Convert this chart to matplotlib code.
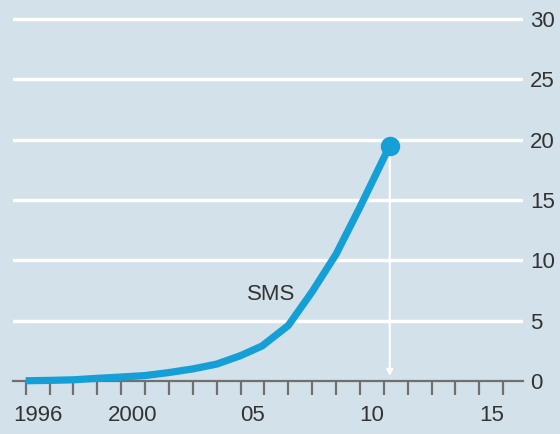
import matplotlib
matplotlib.use("Agg")
import matplotlib.pyplot as plt
import numpy as np

# SMS volume (x = fractional year)
years = [1996.0, 1997.0, 1998.0, 1999.0, 2000.0, 2001.0, 2002.0, 2003.0,
         2004.0, 2005.0, 2005.9, 2007.0, 2008.0, 2009.0, 2010.0, 2011.25]
sms = [0.02, 0.05, 0.1, 0.22, 0.33, 0.45, 0.7, 1.0,
       1.4, 2.1, 2.9, 4.6, 7.4, 10.5, 14.4, 19.5]

ytick_vals = [0, 5, 10, 15, 20, 25, 30]
xlabel_years = [1996, 2000, 2005, 2010, 2015]
xlabel_text = ["1996", "2000", "05", "10", "15"]

bg = "#d3e1ea"
blue = "#159fd7"
txt = "#333333"

plt.rcParams['font.family'] = ['Liberation Sans', 'DejaVu Sans']

fig = plt.figure(figsize=(5.6, 4.34), dpi=100, facecolor=bg)
ax = fig.add_axes([12.5 / 560, 53 / 434, (523 - 12.5) / 560, 381 / 434])
ax.set_facecolor(bg)
ax.set_xlim(1995.45, 2016.83)
ax.set_ylim(0, 31.57)
for s in ax.spines.values():
    s.set_visible(False)

# white gridlines
for v in ytick_vals[1:]:
    ax.axhline(v, color="white", lw=2.5, zorder=1)
ax.axhline(0, color="#707070", lw=1.6, zorder=2, clip_on=False)

# y labels on the right
ax.yaxis.tick_right()
ax.set_yticks(ytick_vals)
ax.set_yticklabels([str(v) for v in ytick_vals])
ax.tick_params(axis="y", length=0, pad=5, labelsize=16, labelcolor=txt)

# x: year-boundary ticks, labels centred on the year
ax.set_xticks(np.arange(1996, 2017), minor=True)
ax.set_xticks([y + 0.5 for y in xlabel_years])
ax.set_xticklabels(xlabel_text)
ax.tick_params(axis="x", which="minor", length=10, width=1.6, color="#707070")
ax.tick_params(axis="x", which="major", length=0, pad=17, labelsize=16, labelcolor=txt)

ax.plot(years, sms, color=blue, lw=5.2, solid_capstyle="butt", solid_joinstyle="round",
        zorder=4, clip_on=False)
ax.plot(years[-1], sms[-1], "o", color=blue, ms=13, zorder=5, clip_on=False)

ax.annotate("", xy=(years[-1], 0.4), xytext=(years[-1], sms[-1]),
            arrowprops=dict(arrowstyle="-|>", color="white", lw=1.5, mutation_scale=9,
                            shrinkA=0, shrinkB=0), zorder=3)

ax.text(2006.3, 7.2, "SMS", ha="center", va="center", fontsize=16, color=txt)

fig.savefig("out.png", dpi=100, facecolor=bg)
